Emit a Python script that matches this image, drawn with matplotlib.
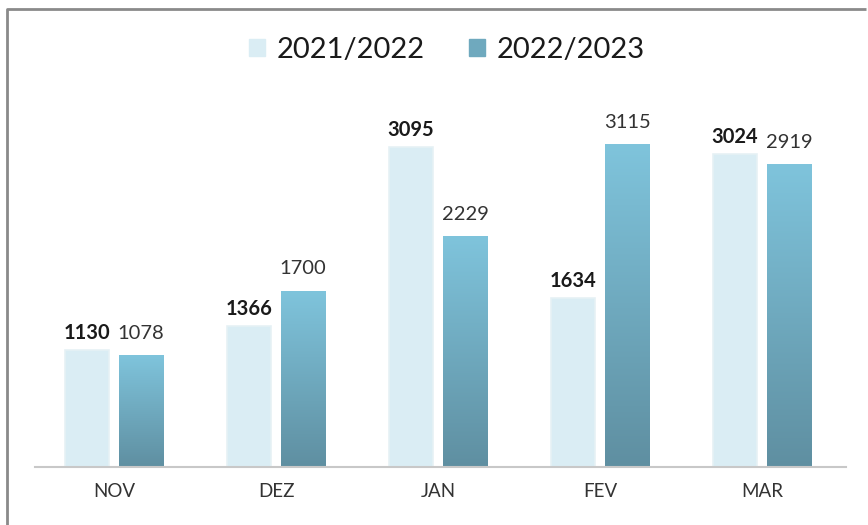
import numpy as np
import matplotlib.pyplot as plt
from matplotlib.patches import Rectangle
from matplotlib.lines import Line2D
from matplotlib.colors import LinearSegmentedColormap

months = ["NOV", "DEZ", "JAN", "FEV", "MAR"]
s2122 = [1130, 1366, 3095, 1634, 3024]
s2223 = [1078, 1700, 2229, 3115, 2919]
series_names = ["2021/2022", "2022/2023"]

plt.rcParams['font.family'] = ['Lato', 'DejaVu Sans']

fig = plt.figure(figsize=(8.68, 5.25), dpi=100)
ax = fig.add_axes([0.040, 0.110, 0.935, 0.70])

x = np.arange(len(months))
w = 0.277
off = 0.167

light = "#daedf4"
# vertical gradient for the darker series (bottom -> top)
grad = np.linspace(0, 1, 256).reshape(-1, 1)
cmap = LinearSegmentedColormap.from_list("blu", ["#5f8fa1", "#7fc4dc"])

bars1 = ax.bar(x - off, s2122, w, color=light, edgecolor="#e6f1f5", linewidth=1.2, zorder=2)
bars2 = ax.bar(x + off, s2223, w, color="none", linewidth=0, zorder=3)
for b in bars2:
    x0, y0 = b.get_x(), b.get_y()
    bw, bh = b.get_width(), b.get_height()
    ax.imshow(grad, cmap=cmap, origin="lower", aspect="auto",
              extent=[x0, x0 + bw, y0, y0 + bh], zorder=2.5)

for b, v in zip(bars1, s2122):
    ax.annotate(str(v), (b.get_x() + b.get_width() / 2, v), xytext=(0, 5),
                textcoords="offset points", ha="center", va="bottom",
                fontsize=14.5, fontweight="bold", color="#1a1a1a")
for b, v in zip(bars2, s2223):
    ax.annotate(str(v), (b.get_x() + b.get_width() / 2, v), xytext=(0, 10),
                textcoords="offset points", ha="center", va="bottom",
                fontsize=14.5, color="#333333")

ax.set_xlim(-0.49, 4.52)
ax.set_ylim(0, 3550)
ax.set_xticks(x)
ax.set_xticklabels(months, fontsize=13.5, color="#333333")
ax.tick_params(axis="x", length=0, pad=11)
ax.set_yticks([])
for s in ["top", "right", "left"]:
    ax.spines[s].set_visible(False)
ax.spines["bottom"].set_color("#c8c8c8")
ax.spines["bottom"].set_linewidth(1.5)

# legend
handles = [Rectangle((0, 0), 1, 1, color=light), Rectangle((0, 0), 1, 1, color="#6fa9be")]
fig.legend(handles, series_names, loc="upper center", bbox_to_anchor=(0.515, 0.98),
           ncol=2, frameon=False, fontsize=21, handlelength=0.55, handleheight=0.55,
           columnspacing=1.5, handletextpad=0.4, labelcolor="#1a1a1a")

# outer frame, only left and top edges are visible
fx, fy = 6.5 / 868, 1 - 8.5 / 525
fig.lines.append(Line2D([fx, fx, 0.998], [0.0, fy, fy], transform=fig.transFigure,
                        color="#8a8a8a", linewidth=2, solid_capstyle="butt"))

fig.savefig("out.png", dpi=100)
